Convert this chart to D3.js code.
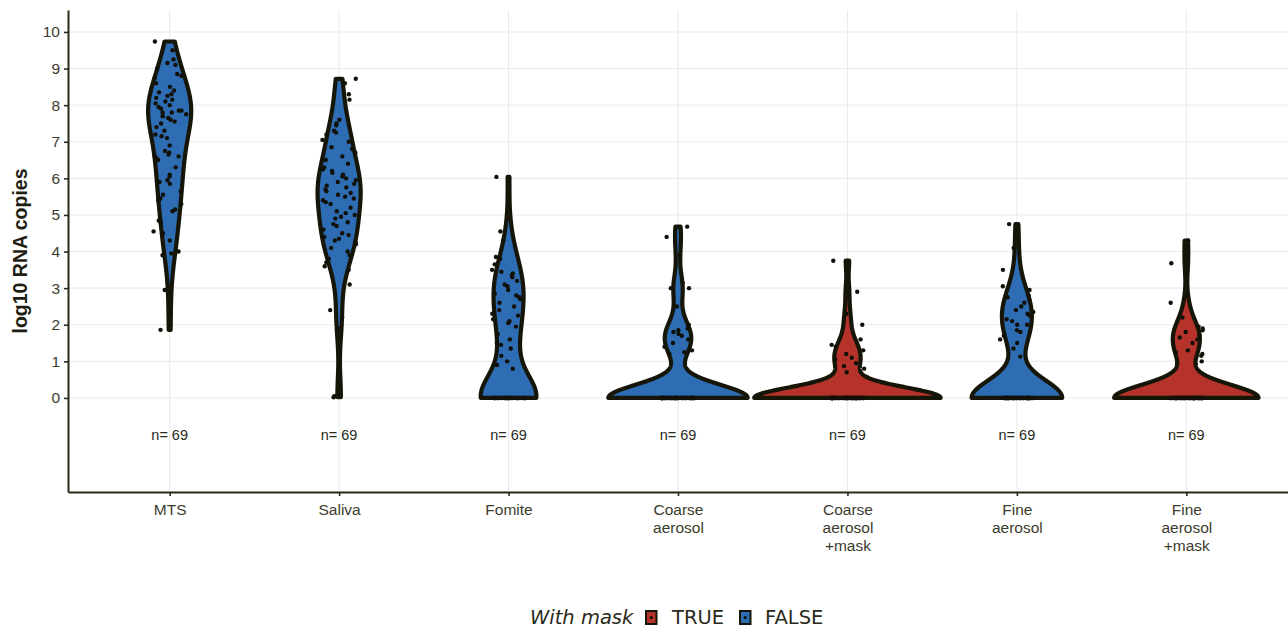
<!DOCTYPE html>
<html><head><meta charset="utf-8">
<script src="https://cdn.jsdelivr.net/npm/d3@7"></script>
<style>body{margin:0;background:#fff}</style>
</head><body><svg id="c" width="1288" height="629"></svg>
<script>
const categories = ["MTS","Saliva","Fomite","Coarse aerosol","Coarse aerosol +mask","Fine aerosol","Fine aerosol +mask"];
const categoryLabels = [["MTS"],["Saliva"],["Fomite"],["Coarse","aerosol"],["Coarse","aerosol","+mask"],["Fine","aerosol"],["Fine","aerosol","+mask"]];
const withMask = ["FALSE","FALSE","FALSE","FALSE","TRUE","FALSE","TRUE"];
const legendLabels = ["TRUE","FALSE"];
const yTicks = [0,1,2,3,4,5,6,7,8,9,10];

const mtsValues = [9.74,9.5,9.25,9.15,9.1,9.0,8.85,8.8,8.75,8.6,
  8.5,8.4,8.35,8.3,8.25,8.2,8.15,8.1,8.05,8.0,
  7.95,7.9,7.85,7.85,7.8,7.8,7.75,7.7,7.7,7.65,
  7.6,7.55,7.5,7.4,7.3,7.2,7.15,7.1,6.9,6.75,
  6.7,6.65,6.6,6.6,6.55,6.5,6.3,6.1,6.05,5.95,
  5.9,5.85,5.65,5.55,5.45,5.4,5.3,5.15,5.1,4.85,
  4.8,4.55,4.5,4.3,4.0,3.95,3.9,2.95,1.86];
const salivaValues = [8.72,8.6,8.3,8.15,7.6,7.5,7.45,7.3,7.25,7.2,
  7.05,7.0,6.85,6.8,6.7,6.6,6.5,6.4,6.3,6.25,
  6.2,6.15,6.1,6.05,6.0,5.95,5.9,5.85,5.8,5.75,
  5.7,5.65,5.6,5.55,5.5,5.45,5.4,5.35,5.3,5.2,
  5.1,5.05,5.0,4.95,4.9,4.8,4.75,4.7,4.6,4.5,
  4.45,4.4,4.35,4.3,4.25,4.2,4.1,4.0,3.9,3.8,
  3.7,3.6,3.5,3.1,2.4,2.2,1.9,0.05,0.02];
const fomiteValues = [6.04,4.55,4.3,3.85,3.8,3.65,3.5,3.45,3.4,3.35,
  3.3,3.2,3.1,3.05,2.95,2.85,2.8,2.75,2.7,2.6,
  2.5,2.4,2.3,2.25,2.15,2.1,2.05,1.95,1.75,1.6,
  1.5,1.45,1.35,1.15,1.0,0.9,0.8,
  0,0,0,0,0,0,0,0,0,0,
  0,0,0,0,0,0,0,0,0,0,
  0,0,0,0,0,0,0,0,0,0,
  0,0];
const coarseValues = [4.68,4.4,3.9,3.15,3.0,3.0,2.5,2.0,1.9,1.85,
  1.8,1.75,1.7,1.6,1.5,1.4,1.3,1.25,1.2,
  0,0,0,0,0,0,0,0,0,0,
  0,0,0,0,0,0,0,0,0,0,
  0,0,0,0,0,0,0,0,0,0,
  0,0,0,0,0,0,0,0,0,0,
  0,0,0,0,0,0,0,0,0,0];
const coarseMaskValues = [3.75,2.9,2.3,2.0,1.6,1.45,1.4,1.3,1.2,1.1,
  1.05,0.95,0.87,0.8,0.7,
  0,0,0,0,0,0,0,0,0,0,
  0,0,0,0,0,0,0,0,0,0,
  0,0,0,0,0,0,0,0,0,0,
  0,0,0,0,0,0,0,0,0,0,
  0,0,0,0,0,0,0,0,0,0,
  0,0,0,0];
const fineValues = [4.75,4.1,3.5,3.05,2.95,2.8,2.75,2.7,2.6,2.5,
  2.4,2.35,2.3,2.25,2.15,2.1,2.0,2.0,1.85,1.8,
  1.7,1.6,1.5,1.35,1.13,
  0,0,0,0,0,0,0,0,0,0,
  0,0,0,0,0,0,0,0,0,0,
  0,0,0,0,0,0,0,0,0,0,
  0,0,0,0,0,0,0,0,0,0,
  0,0,0,0];
const fineMaskValues = [4.3,3.68,2.6,2.2,1.95,1.9,1.85,1.8,1.7,1.65,
  1.6,1.5,1.3,1.25,1.2,1.15,1.0,
  0,0,0,0,0,0,0,0,0,0,
  0,0,0,0,0,0,0,0,0,0,
  0,0,0,0,0,0,0,0,0,0,
  0,0,0,0,0,0,0,0,0,0,
  0,0,0,0,0,0,0,0,0,0,
  0,0];
const seriesValues = [mtsValues,salivaValues,fomiteValues,coarseValues,coarseMaskValues,fineValues,fineMaskValues];

const svg = d3.select("#c");
const L = 68, R = 1288, T = 10, B = 492;
const ink = "#2a2a18", txt = "#3c3c2c", gridC = "#ebebeb";
const x = d3.scalePoint().domain(categories).range([L, R]).padding(0.6);
const y = d3.scaleLinear().domain([-2.57, 10.6]).range([B, T]);
const color = d3.scaleOrdinal().domain(legendLabels).range(["#b5332a", "#2e6db4"]);

// grid
const g = svg.append("g");
g.selectAll(".hg").data(yTicks).join("line")
  .attr("x1", L).attr("x2", R).attr("y1", d => y(d)).attr("y2", d => y(d))
  .attr("stroke", gridC).attr("stroke-width", 1.1);
g.selectAll(".vg").data(categories).join("line")
  .attr("x1", d => x(d)).attr("x2", d => x(d)).attr("y1", T).attr("y2", B)
  .attr("stroke", gridC).attr("stroke-width", 1.1);

// KDE (R density, gaussian, bw.nrd0, trimmed)
function bwNrd0(v) {
  const s = v.slice().sort(d3.ascending);
  const hi = d3.deviation(s);
  let lo = Math.min(hi, (d3.quantileSorted(s, 0.75) - d3.quantileSorted(s, 0.25)) / 1.34);
  if (!lo) lo = hi || Math.abs(s[0]) || 1;
  return 0.9 * lo * Math.pow(s.length, -0.2);
}
const dens = seriesValues.map(v => {
  const bw = bwNrd0(v);
  const [mn, mx] = d3.extent(v);
  const pts = [];
  for (let i = 0; i < 512; i++) {
    const t = mn + (mx - mn) * i / 511;
    let s = 0;
    for (const xi of v) { const u = (t - xi) / bw; s += Math.exp(-0.5 * u * u); }
    pts.push({ t, d: s / (v.length * bw * Math.sqrt(2 * Math.PI)) });
  }
  return pts;
});
const maxD = d3.max(dens, p => d3.max(p, q => q.d));
const wScale = d3.scaleLinear().domain([0, maxD]).range([0, 0.55 * x.step()]);

categories.forEach((c, i) => {
  const cx = x(c);
  const area = d3.area().y(d => y(d.t)).x0(d => cx - wScale(d.d)).x1(d => cx + wScale(d.d));
  svg.append("path").datum(dens[i]).attr("d", area)
    .attr("fill", color(withMask[i])).attr("stroke", "#161608")
    .attr("stroke-width", 4.2).attr("stroke-linejoin", "round");
});

// jittered points (deterministic jitter)
let seed = 20201;
function rnd() { seed = (seed * 1664525 + 1013904223) % 4294967296; return seed / 4294967296; }
categories.forEach((c, i) => {
  const cx = x(c);
  svg.append("g").selectAll("circle").data(seriesValues[i]).join("circle")
    .attr("cx", () => cx + (rnd() * 2 - 1) * 0.1 * x.step())
    .attr("cy", d => y(d)).attr("r", 2.2).attr("fill", "#111108");
});

// n labels
svg.append("g").selectAll("text").data(categories).join("text")
  .attr("x", d => x(d)).attr("y", y(-1)).attr("dy", "0.35em")
  .attr("text-anchor", "middle").attr("font-family", "Liberation Sans, Arial, sans-serif")
  .attr("font-size", 14.5).attr("fill", "#2a2a1a")
  .text((d, i) => "n= " + seriesValues[i].length);

// axes
const yAxis = svg.append("g").attr("transform", `translate(${L},0)`)
  .call(d3.axisLeft(y).tickValues(yTicks).tickSize(4).tickSizeOuter(0).tickPadding(4));
yAxis.select(".domain").attr("stroke", ink).attr("stroke-width", 2);
yAxis.selectAll(".tick line").attr("stroke", ink).attr("stroke-width", 1.6);
yAxis.selectAll(".tick text").attr("font-family", "Liberation Sans, Arial, sans-serif")
  .attr("font-size", 15.5).attr("fill", txt);

const xAxis = svg.append("g").attr("transform", `translate(0,${B})`)
  .call(d3.axisBottom(x).tickSize(4).tickSizeOuter(0).tickFormat(""));
xAxis.select(".domain").attr("stroke", ink).attr("stroke-width", 2);
xAxis.selectAll(".tick line").attr("stroke", ink).attr("stroke-width", 1.6);
xAxis.selectAll(".tick").each(function (d, i) {
  const t = d3.select(this).append("text").attr("fill", txt)
    .attr("font-family", "Liberation Sans, Arial, sans-serif").attr("font-size", 15.5)
    .attr("text-anchor", "middle").attr("y", 23);
  categoryLabels[i].forEach((ln, k) => t.append("tspan").attr("x", 0).attr("dy", k ? 18 : 0).text(ln));
});

svg.append("text").attr("transform", `translate(27,${(T + B) / 2}) rotate(-90)`)
  .attr("text-anchor", "middle").attr("font-family", "Liberation Sans, Arial, sans-serif")
  .attr("font-weight", "bold").attr("font-size", 19.5).attr("fill", "#1e1e12")
  .text("log10 RNA copies");

// legend
const lg = svg.append("g").attr("font-family", "DejaVu Sans, sans-serif").attr("font-size", 19.5).attr("fill", "#2a2a1a");
lg.append("text").attr("x", 530).attr("y", 624).attr("font-style", "italic").text("With mask");
const keyX = [646, 740], labX = [672, 765];
legendLabels.forEach((l, i) => {
  lg.append("rect").attr("x", keyX[i]).attr("y", 611).attr("width", 10.5).attr("height", 13)
    .attr("fill", color(l)).attr("stroke", "#161608").attr("stroke-width", 2);
  lg.append("circle").attr("cx", keyX[i] + 5.25).attr("cy", 617.5).attr("r", 1.6).attr("fill", "#111108");
  lg.append("text").attr("x", labX[i]).attr("y", 624).text(l);
});
</script></body></html>
